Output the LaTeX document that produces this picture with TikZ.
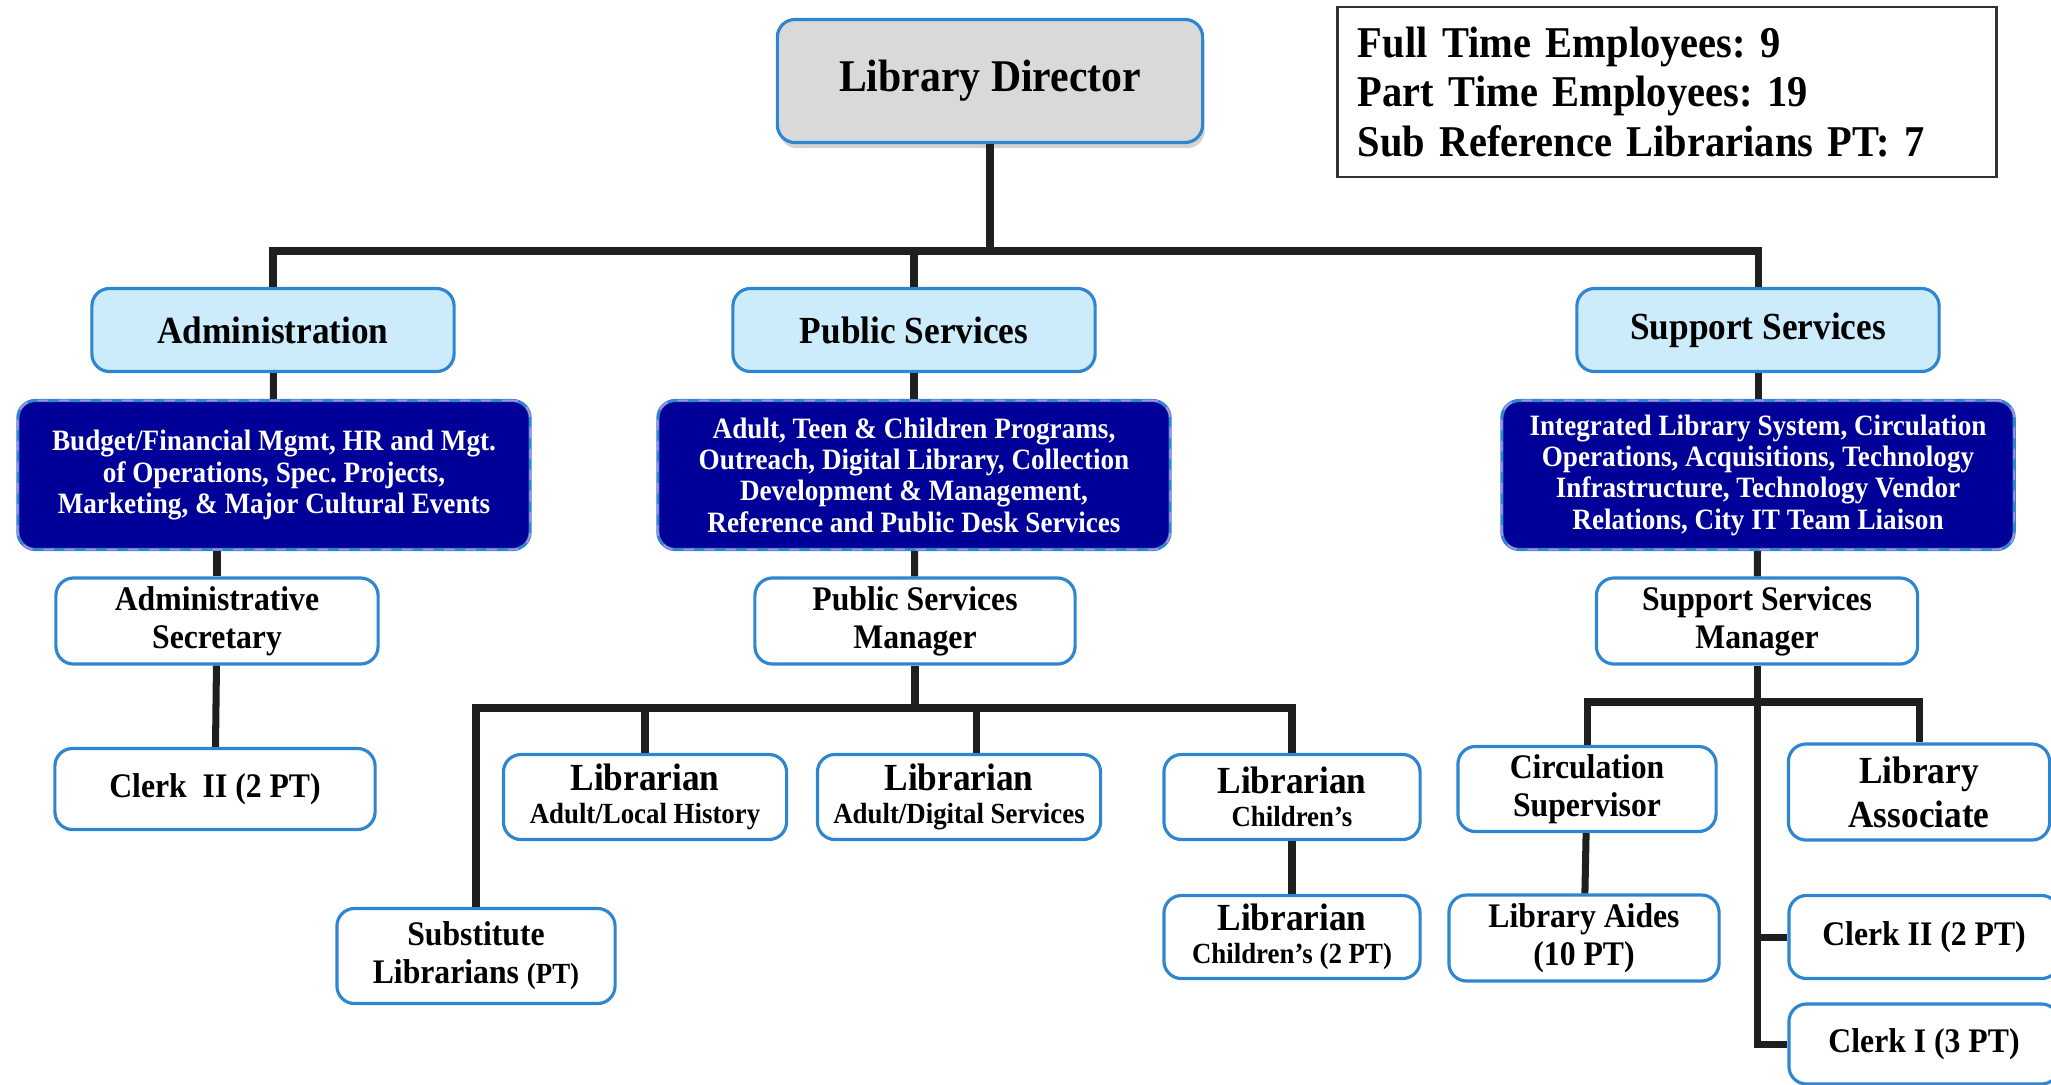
\documentclass[tikz,border=0pt]{standalone}
\usepackage{fontspec}
\setmainfont[FakeStretch=0.92]{Liberation Serif}
\usetikzlibrary{shadows}
\frenchspacing

\definecolor{boxline}{RGB}{46,134,208}
\definecolor{dirfill}{RGB}{217,217,217}
\definecolor{headfill}{RGB}{204,236,252}
\definecolor{navy}{RGB}{0,0,153}
\definecolor{dashline}{RGB}{180,140,220}

\tikzset{
	unit/.style={draw=boxline, line width=0.9pt, rounded corners=5pt, align=center, inner sep=0pt},
	dirbox/.style={unit, fill=dirfill, minimum width=4.25cm, minimum height=1.23cm,
		drop shadow={shadow xshift=0.6pt, shadow yshift=-1.6pt, opacity=0.35},
		font=\bfseries\fontsize{12.9}{14}\selectfont},
	headbox/.style={unit, fill=headfill, minimum width=3.62cm, minimum height=0.83cm,
		font=\bfseries\fontsize{10.9}{13}\selectfont},
	dutybox/.style={unit, fill=navy, text=white, minimum width=5.12cm, minimum height=1.49cm,
		postaction={draw=dashline, dashed, line width=0.5pt},
		font=\bfseries\fontsize{8.4}{8.9}\selectfont},
	jobbox/.style={unit, fill=white, font=\bfseries\fontsize{9.8}{10.8}\selectfont},
	link/.style={line width=2pt, draw=black!88}
}

\begin{document}
\begin{tikzpicture}[x=0.01cm, y=-0.01cm]
	\useasboundingbox (0,0) rectangle (2051,1084);
	\clip (0,0) rectangle (2051,1084);

	% director and head count
	\node[dirbox] (dir) at (990,81) {Library Director};
	\node[draw=black!80, line width=0.8pt, text width=6.18cm, inner xsep=0.2cm, minimum height=1.70cm,
		align=left, font=\bfseries\fontsize{12.5}{14.2}\selectfont] (count) at (1667,92)
		{Full Time Employees: 9\\Part Time Employees: 19\\Sub Reference Librarians PT: 7};

	% divisions
	\node[headbox] (admin) at (273,330) {Administration};
	\node[headbox] (pub) at (914,330) {Public Services};
	\node[headbox] (supp) at (1758,330) {Support Services};

	\node[dutybox] (admindo) at (274,475) {Budget/Financial Mgmt, HR and Mgt.\\of Operations, Spec. Projects,\\Marketing, \& Major Cultural Events};
	\node[dutybox] (pubdo) at (914,475) {Adult, Teen \& Children Programs,\\Outreach, Digital Library, Collection\\Development \& Management,\\Reference and Public Desk Services};
	\node[dutybox] (suppdo) at (1758,475) {Integrated Library System, Circulation\\Operations, Acquisitions, Technology\\Infrastructure, Technology Vendor\\Relations, City IT Team Liaison};

	% administration staff
	\node[jobbox, minimum width=3.22cm, minimum height=0.86cm] (sec) at (217,621) {Administrative\\Secretary};
	\node[jobbox, minimum width=3.20cm, minimum height=0.81cm] (clerkA) at (215,789) {Clerk~~II (2 PT)};

	% public services staff
	\node[jobbox, minimum width=3.20cm, minimum height=0.86cm] (psm) at (915,621) {Public Services\\Manager};
	\node[jobbox, minimum width=2.83cm, minimum height=0.85cm] (libH) at (645,797)
		{{\fontsize{10.9}{10}\selectfont Librarian}\\[-1.5pt]\fontsize{8.3}{10}\selectfont Adult/Local History};
	\node[jobbox, minimum width=2.83cm, minimum height=0.85cm] (libD) at (959,797)
		{{\fontsize{10.9}{10}\selectfont Librarian}\\[-1.5pt]\fontsize{8.3}{10}\selectfont Adult/Digital Services};
	\node[jobbox, minimum width=2.56cm, minimum height=0.85cm] (libC) at (1292,797)
		{{\fontsize{10.9}{10}\selectfont Librarian}\\[-1.5pt]\fontsize{8.3}{10}\selectfont Children's};
	\node[jobbox, minimum width=2.56cm, minimum height=0.83cm] (libC2) at (1292,937)
		{{\fontsize{10.9}{10}\selectfont Librarian}\\[-1.5pt]\fontsize{8.3}{10}\selectfont Children's (2 PT)};
	\node[jobbox, minimum width=2.78cm, minimum height=0.95cm] (sub) at (476,956)
		{Substitute\\Librarians {\fontsize{8.3}{10}\selectfont (PT)}};

	% support services staff
	\node[jobbox, minimum width=3.21cm, minimum height=0.86cm] (ssm) at (1757,621) {Support Services\\Manager};
	\node[jobbox, minimum width=2.58cm, minimum height=0.85cm] (circ) at (1587,789) {Circulation\\Supervisor};
	\node[jobbox, minimum width=2.61cm, minimum height=0.96cm, font=\bfseries\fontsize{10.9}{12.5}\selectfont] (assoc) at (1919,792) {Library\\Associate};
	\node[jobbox, minimum width=2.70cm, minimum height=0.86cm] (aides) at (1584,938) {Library Aides\\(10 PT)};
	\node[jobbox, minimum width=2.70cm, minimum height=0.83cm] (clerkB) at (1924,937) {Clerk II (2 PT)};
	\node[jobbox, minimum width=2.70cm, minimum height=0.80cm] (clerkC) at (1924,1044) {Clerk I (3 PT)};

	% connectors
	\coordinate (topbar) at (990,251);
	\draw[link] (dir) -- (topbar);
	\draw[link] (admin.north) -- (admin.north |- topbar) -- (supp.north |- topbar) -- (supp.north);
	\draw[link] (pub.north) -- (pub.north |- topbar);
	\draw[link] (admin) -- (admindo);
	\draw[link] (pub) -- (pubdo);
	\draw[link] (supp) -- (suppdo);

	\draw[link] (admindo.south -| sec.north) -- (sec.north);
	\draw[link] (sec) -- (clerkA);

	\draw[link] (pubdo) -- (psm);
	\coordinate (psbar) at (915,708);
	\draw[link] (psm.south) -- (psm.south |- psbar);
	\draw[link] (sub.north) |- (libC.north |- psbar) -- (libC.north);
	\draw[link] (libH.north) -- (libH.north |- psbar);
	\draw[link] ([xshift=0.17cm]libD.north) -- ([xshift=0.17cm]libD.north |- psbar);
	\draw[link] (libC) -- (libC2);

	\draw[link] (suppdo) -- (ssm);
	\coordinate (ssbar) at (1757,702);
	\draw[link] (circ.north) |- (assoc.north |- ssbar) -- (assoc.north);
	\draw[link] (circ) -- (aides);
	\draw[link] (ssm.south) |- (clerkC.west);
	\draw[link] (ssm.south |- clerkB.west) -- (clerkB.west);
\end{tikzpicture}
\end{document}
